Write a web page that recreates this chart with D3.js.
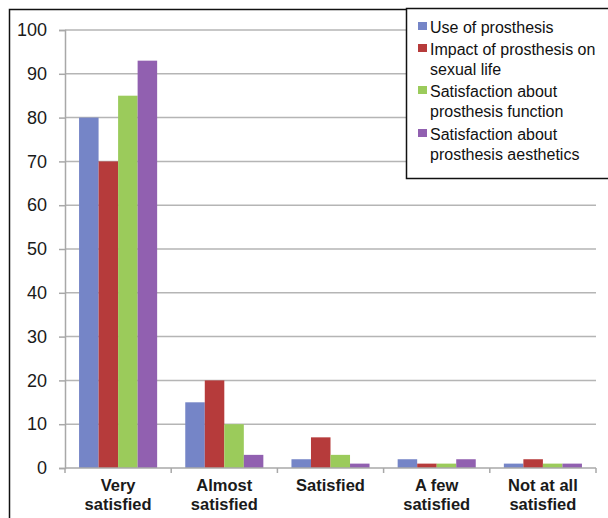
<!DOCTYPE html>
<html>
<head>
<meta charset="utf-8">
<script src="https://cdn.jsdelivr.net/npm/d3@7"></script>
<style>
  html, body { margin: 0; padding: 0; background: #fff; }
  svg { display: block; font-family: "Liberation Sans", Arial, sans-serif; }
</style>
</head>
<body>
<svg id="chart" width="608" height="518"></svg>
<script>
// Satisfaction levels (x categories), split over two lines each
const categories = [
  ["Very", "satisfied"],
  ["Almost", "satisfied"],
  ["Satisfied"],
  ["A few", "satisfied"],
  ["Not at all", "satisfied"]
];
const seriesNames = [
  ["Use of prosthesis"],
  ["Impact of prosthesis on", "sexual life"],
  ["Satisfaction about", "prosthesis function"],
  ["Satisfaction about", "prosthesis aesthetics"]
];
const useOfProsthesis        = [80, 15, 2, 2, 1];
const impactOnSexualLife     = [70, 20, 7, 1, 2];
const functionSatisfaction   = [85, 10, 3, 1, 1];
const aestheticsSatisfaction = [93, 3, 1, 2, 1];
const yTicks = [0, 10, 20, 30, 40, 50, 60, 70, 80, 90, 100];
const colors = ["#7585c7", "#b63b3b", "#9bcb5b", "#9160b0"];

const series = [useOfProsthesis, impactOnSexualLife, functionSatisfaction, aestheticsSatisfaction];

const svg = d3.select("#chart");
const plotLeft = 65, plotRight = 596, plotTop = 30, plotBottom = 468;

const x0 = d3.scaleBand().domain(d3.range(categories.length)).range([plotLeft, plotRight]).paddingInner(0).paddingOuter(0);
const x1 = d3.scaleBand().domain(d3.range(series.length)).range([0, x0.bandwidth()]).paddingOuter(0.72).paddingInner(0);
const y = d3.scaleLinear().domain([0, 100]).range([plotBottom, plotTop]);

// outer frame (left and top edges)
svg.append("path").attr("d", "M9.5,518 V9.5 H406")
  .attr("fill", "none").attr("stroke", "#111").attr("stroke-width", 1.5);

// horizontal gridlines
svg.append("g").selectAll("line").data(yTicks.filter(t => t > 0)).join("line")
  .attr("x1", plotLeft).attr("x2", plotRight)
  .attr("y1", d => y(d)).attr("y2", d => y(d))
  .attr("stroke", "#b5b5b5").attr("stroke-width", 1.5);

// y axis
const yAxis = d3.axisLeft(y).tickValues(yTicks).tickSize(6).tickPadding(12);
const gy = svg.append("g").attr("transform", `translate(${plotLeft},0)`).call(yAxis);
gy.select(".domain").attr("stroke", "#a8a8a8").attr("stroke-width", 1.5);
gy.selectAll(".tick line").attr("stroke", "#a8a8a8").attr("stroke-width", 1.5);
gy.selectAll(".tick text").attr("font-size", 18).attr("fill", "#1a1a1a")
  .attr("font-family", "Liberation Sans, Arial, sans-serif");

// bars
const groups = svg.append("g").selectAll("g").data(categories).join("g")
  .attr("transform", (d, i) => `translate(${x0(i)},0)`);
groups.selectAll("rect").data((d, i) => series.map((s, k) => ({ k, v: s[i] }))).join("rect")
  .attr("x", d => x1(d.k))
  .attr("width", x1.bandwidth())
  .attr("y", d => y(d.v))
  .attr("height", d => y(0) - y(d.v))
  .attr("fill", d => colors[d.k]);

// x axis
const gx = svg.append("g").attr("transform", `translate(0,${plotBottom})`);
gx.append("line").attr("x1", plotLeft).attr("x2", plotRight).attr("y1", 0).attr("y2", 0)
  .attr("stroke", "#a8a8a8").attr("stroke-width", 1.5);
gx.selectAll("line.tk").data(d3.range(categories.length + 1)).join("line").attr("class", "tk")
  .attr("x1", i => plotLeft + i * x0.bandwidth()).attr("x2", i => plotLeft + i * x0.bandwidth())
  .attr("y1", 0).attr("y2", 5).attr("stroke", "#a8a8a8").attr("stroke-width", 1.5);
const labels = gx.selectAll("text").data(categories).join("text")
  .attr("x", (d, i) => x0(i) + x0.bandwidth() / 2)
  .attr("y", 23)
  .attr("text-anchor", "middle")
  .attr("font-size", 16.5).attr("font-weight", "bold").attr("fill", "#1a1a1a");
labels.selectAll("tspan").data(d => d).join("tspan")
  .attr("x", function () { return this.parentNode.getAttribute("x"); })
  .attr("dy", (d, j) => j === 0 ? 0 : 19)
  .text(d => d);

// legend
const lg = svg.append("g");
lg.append("rect").attr("x", 406.5).attr("y", 8.5).attr("width", 210).attr("height", 170)
  .attr("fill", "#fff").attr("stroke", "#111").attr("stroke-width", 1.5);
const lineTops = [33, 55, 97, 140];
seriesNames.forEach((names, k) => {
  lg.append("rect").attr("x", 418).attr("y", lineTops[k] - 11).attr("width", 9).attr("height", 8)
    .attr("fill", colors[k]);
  names.forEach((t, j) => {
    lg.append("text").attr("x", 430).attr("y", lineTops[k] + j * 19.5)
      .attr("font-size", 16).attr("fill", "#111").text(t);
  });
});
</script>
</body>
</html>
